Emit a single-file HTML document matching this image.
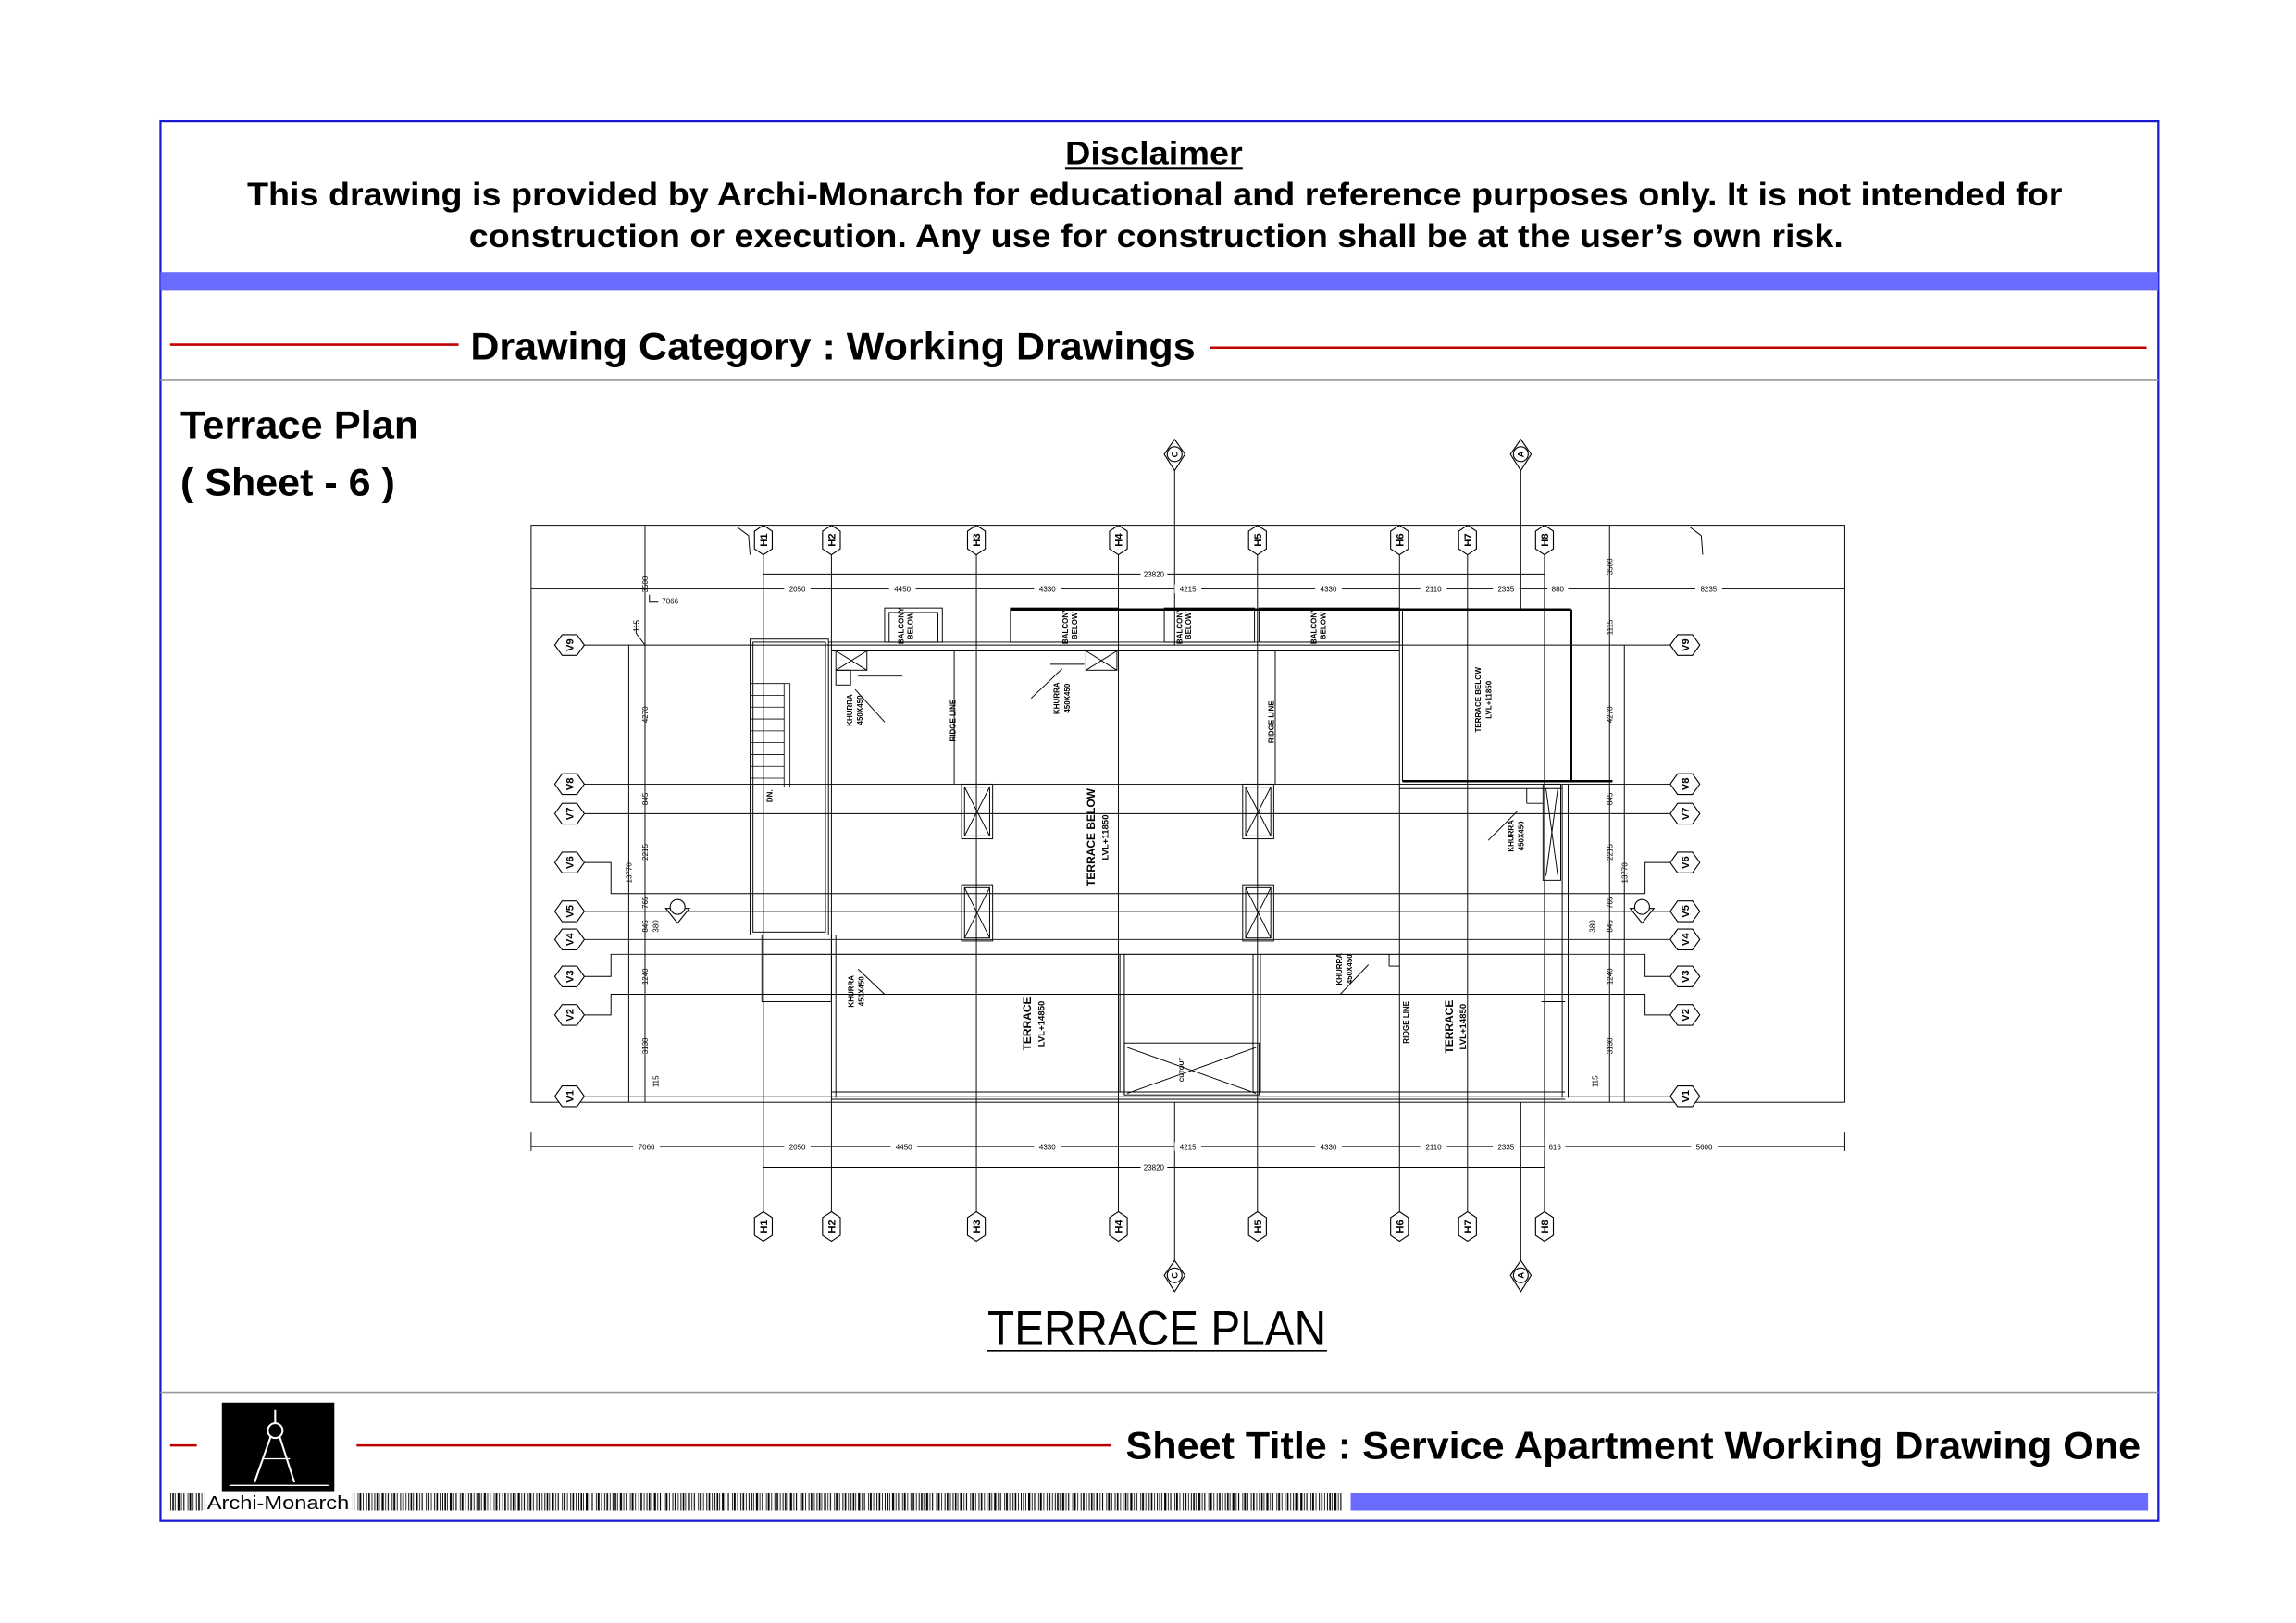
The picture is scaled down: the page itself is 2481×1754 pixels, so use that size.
<!DOCTYPE html>
<html><head><meta charset="utf-8"><style>
html,body{margin:0;padding:0;background:#fff;}
svg{display:block;}
text{font-family:"Liberation Sans",Arial,sans-serif;}
</style></head><body>
<svg width="2481" height="1754" viewBox="0 0 1552 1097" preserveAspectRatio="none" xmlns="http://www.w3.org/2000/svg">
<defs>
<pattern id="bc" x="0" y="0" width="23" height="12" patternUnits="userSpaceOnUse">
<rect x="0" y="0" width="0.6" height="12" fill="#000"/><rect x="1.5" y="0" width="1" height="12" fill="#000"/>
<rect x="3.2" y="0" width="0.5" height="12" fill="#000"/><rect x="5" y="0" width="1.4" height="12" fill="#000"/>
<rect x="7.4" y="0" width="0.5" height="12" fill="#000"/><rect x="9" y="0" width="0.7" height="12" fill="#000"/>
<rect x="11.8" y="0" width="0.5" height="12" fill="#000"/><rect x="13" y="0" width="1.2" height="12" fill="#000"/>
<rect x="15.3" y="0" width="0.5" height="12" fill="#000"/><rect x="17.5" y="0" width="0.6" height="12" fill="#000"/>
<rect x="19" y="0" width="1" height="12" fill="#000"/><rect x="21.2" y="0" width="0.5" height="12" fill="#000"/>
</pattern>
</defs>
<rect x="0" y="0" width="1552" height="1097" fill="#fff"/>
<!-- frame -->
<rect x="108.5" y="82" width="1350.5" height="946" fill="none" stroke="#1a1ad0" stroke-width="1.4"/>
<text x="780" y="111" font-size="22" font-weight="bold" text-anchor="middle" textLength="120" lengthAdjust="spacingAndGlyphs">Disclaimer</text>
<line x1="720" y1="114" x2="840" y2="114" stroke="#000" stroke-width="1.3"/>
<text x="167" y="139" font-size="22" font-weight="bold" textLength="1227" lengthAdjust="spacingAndGlyphs">This drawing is provided by Archi-Monarch for educational and reference purposes only. It is not intended for</text>
<text x="317" y="167" font-size="22" font-weight="bold" textLength="929" lengthAdjust="spacingAndGlyphs">construction or execution. Any use for construction shall be at the user’s own risk.</text>
<rect x="108.5" y="184" width="1350.5" height="12" fill="#6b6bff"/>
<line x1="115" y1="233" x2="310" y2="233" stroke="#c00000" stroke-width="1.6"/>
<text x="318" y="243" font-size="26" font-weight="bold" textLength="490" lengthAdjust="spacingAndGlyphs">Drawing Category : Working Drawings</text>
<line x1="818" y1="235" x2="1451" y2="235" stroke="#c00000" stroke-width="1.6"/>
<line x1="108.5" y1="257" x2="1459" y2="257" stroke="#999" stroke-width="1"/>
<text x="122" y="296" font-size="26" font-weight="bold" textLength="161" lengthAdjust="spacingAndGlyphs">Terrace Plan</text>
<text x="122" y="335" font-size="26" font-weight="bold" textLength="145" lengthAdjust="spacingAndGlyphs">( Sheet - 6 )</text>
<line x1="108.5" y1="941" x2="1459" y2="941" stroke="#999" stroke-width="1"/>
<!-- footer -->
<line x1="115" y1="977" x2="133" y2="977" stroke="#c00000" stroke-width="1.6"/>
<rect x="150" y="948" width="76" height="60" fill="#000"/>
<g stroke="#fff" stroke-width="1.3" fill="none">
<line x1="186" y1="953" x2="186" y2="962"/><circle cx="186" cy="967" r="5"/>
<line x1="183" y1="971" x2="172" y2="1002"/><line x1="189" y1="971" x2="199" y2="1002"/>
<line x1="178" y1="986" x2="196" y2="986" stroke-width="0.8"/><line x1="155" y1="1004" x2="222" y2="1004" stroke-width="0.8"/>
</g>
<line x1="241" y1="977" x2="751" y2="977" stroke="#c00000" stroke-width="1.6"/>
<text x="761" y="986" font-size="26" font-weight="bold" textLength="686" lengthAdjust="spacingAndGlyphs">Sheet Title : Service Apartment Working Drawing One</text>
<rect x="115" y="1009" width="793" height="12" fill="url(#bc)"/>
<rect x="138" y="1008" width="100" height="14" fill="#fff"/>
<text x="140" y="1020" font-size="13" textLength="96" lengthAdjust="spacingAndGlyphs">Archi-Monarch</text>
<rect x="913" y="1009" width="539" height="12" fill="#6b6bff"/>

<!-- ================= PLAN ================= -->
<g stroke="#000" stroke-width="0.6" fill="none">
<rect x="359" y="355" width="888" height="390"/>
<!-- grid vertical lines -->
<line x1="516" y1="374" x2="516" y2="820"/><line x1="562" y1="374" x2="562" y2="820"/>
<line x1="660" y1="374" x2="660" y2="820"/><line x1="756" y1="374" x2="756" y2="820"/>
<line x1="850" y1="374" x2="850" y2="820"/><line x1="946" y1="374" x2="946" y2="820"/>
<line x1="992" y1="374" x2="992" y2="820"/><line x1="1044" y1="374" x2="1044" y2="820"/>
<!-- grid horizontal lines -->
<line x1="395" y1="436" x2="1129" y2="436"/><line x1="395" y1="530" x2="1129" y2="530"/>
<line x1="395" y1="550" x2="1129" y2="550"/>
<polyline points="395,583 413,583 413,604 1112,604 1112,583 1129,583"/>
<line x1="395" y1="616" x2="1129" y2="616"/><line x1="395" y1="635" x2="1129" y2="635"/>
<polyline points="395,660 413,660 413,645 1112,645 1112,660 1129,660"/>
<polyline points="395,686 413,686 413,672 1112,672 1112,686 1129,686"/>
<line x1="395" y1="741" x2="1129" y2="741"/>
<!-- section lines -->
<line x1="794" y1="316" x2="794" y2="436"/><line x1="1028" y1="316" x2="1028" y2="412"/>
<line x1="794" y1="745" x2="794" y2="853"/><line x1="1028" y1="745" x2="1028" y2="853"/>
<!-- dimension lines -->
<line x1="359" y1="398" x2="1247" y2="398"/><line x1="516" y1="388" x2="1044" y2="388"/>
<line x1="359" y1="775" x2="1247" y2="775"/><line x1="516" y1="789" x2="1044" y2="789"/>
<line x1="359" y1="765" x2="359" y2="778"/><line x1="1247" y1="765" x2="1247" y2="778"/>
<line x1="436" y1="355" x2="436" y2="745"/><line x1="425" y1="436" x2="425" y2="745"/>
<line x1="1088" y1="355" x2="1088" y2="745"/><line x1="1098" y1="436" x2="1098" y2="745"/>
<!-- walls -->
<rect x="507" y="432" width="53" height="200"/><rect x="509" y="434" width="49" height="196"/>
<g stroke-width="0.5">
<line x1="507" y1="462" x2="530" y2="462"/><line x1="507" y1="470" x2="530" y2="470"/>
<line x1="507" y1="478" x2="530" y2="478"/><line x1="507" y1="486" x2="530" y2="486"/>
<line x1="507" y1="494" x2="530" y2="494"/><line x1="507" y1="502" x2="530" y2="502"/>
<line x1="507" y1="510" x2="530" y2="510"/><line x1="507" y1="518" x2="530" y2="518"/>
<line x1="507" y1="526" x2="530" y2="526"/>
<rect x="530" y="462" width="4" height="70"/>
</g>
<line x1="560" y1="434" x2="946" y2="434"/><line x1="562" y1="440" x2="946" y2="440"/>
<rect x="598" y="411" width="39" height="23"/><rect x="601" y="414" width="33" height="20"/>
<rect x="683" y="411" width="73" height="23"/><rect x="787" y="411" width="61" height="23"/>
<rect x="851" y="411" width="95" height="23"/>
<line x1="683" y1="412" x2="1062" y2="412" stroke-width="1.6"/>
<line x1="1062" y1="412" x2="1062" y2="528" stroke-width="1.6"/>
<line x1="948" y1="528" x2="1090" y2="528" stroke-width="1.6"/>
<line x1="948" y1="412" x2="948" y2="528"/>
<line x1="946" y1="533" x2="1056" y2="533"/>
<rect x="565" y="440" width="21" height="13"/><line x1="565" y1="440" x2="586" y2="453"/><line x1="586" y1="440" x2="565" y2="453"/>
<rect x="734" y="440" width="21" height="13"/><line x1="734" y1="440" x2="755" y2="453"/><line x1="755" y1="440" x2="734" y2="453"/>
<rect x="565" y="453" width="10" height="10"/>
<line x1="645" y1="440" x2="645" y2="530"/><line x1="862" y1="440" x2="862" y2="530"/>
<!-- columns -->
<rect x="650" y="530" width="21" height="37"/><rect x="652" y="532" width="17" height="33"/><line x1="652" y1="532" x2="669" y2="565"/><line x1="669" y1="532" x2="652" y2="565"/>
<rect x="650" y="598" width="21" height="38"/><rect x="652" y="600" width="17" height="34"/><line x1="652" y1="600" x2="669" y2="634"/><line x1="669" y1="600" x2="652" y2="634"/>
<rect x="840" y="530" width="21" height="37"/><rect x="842" y="532" width="17" height="33"/><line x1="842" y1="532" x2="859" y2="565"/><line x1="859" y1="532" x2="842" y2="565"/>
<rect x="840" y="598" width="21" height="38"/><rect x="842" y="600" width="17" height="34"/><line x1="842" y1="600" x2="859" y2="634"/><line x1="859" y1="600" x2="842" y2="634"/>
<rect x="1043" y="530" width="12" height="65"/><line x1="1045" y1="533" x2="1053" y2="592"/><line x1="1053" y1="533" x2="1045" y2="592"/>
<line x1="1056" y1="530" x2="1056" y2="742"/><line x1="1060" y1="530" x2="1060" y2="742"/>
<line x1="1032" y1="533" x2="1032" y2="543"/><line x1="1032" y1="543" x2="1043" y2="543"/>
<!-- lower -->
<line x1="507" y1="632" x2="1058" y2="632"/><line x1="515" y1="645" x2="1056" y2="645"/>
<rect x="515" y="632" width="47" height="45"/>
<line x1="562" y1="738" x2="1058" y2="738"/><line x1="562" y1="743" x2="1058" y2="743"/>
<line x1="565" y1="632" x2="565" y2="742"/>
<line x1="757" y1="645" x2="757" y2="738"/><line x1="760" y1="645" x2="760" y2="738"/>
<line x1="847" y1="645" x2="847" y2="738"/><line x1="852" y1="645" x2="852" y2="738"/>
<rect x="760" y="705" width="91" height="35"/><line x1="762" y1="708" x2="849" y2="739"/><line x1="849" y1="708" x2="762" y2="739"/>
<line x1="939" y1="645" x2="939" y2="653"/><line x1="939" y1="653" x2="946" y2="653"/>
<line x1="1042" y1="672" x2="1058" y2="672"/><line x1="1042" y1="677" x2="1058" y2="677"/>
<!-- leaders/arrows -->
<line x1="598" y1="488" x2="578" y2="466"/><line x1="580" y1="457" x2="610" y2="457"/>
<line x1="697" y1="472" x2="718" y2="452"/><line x1="710" y1="449" x2="733" y2="449"/>
<line x1="1006" y1="568" x2="1026" y2="548"/>
<line x1="598" y1="672" x2="580" y2="655"/><line x1="906" y1="672" x2="925" y2="652"/>
<line x1="498" y1="356" x2="506" y2="362"/><line x1="506" y1="362" x2="507" y2="375"/>
<line x1="1142" y1="356" x2="1150" y2="362"/><line x1="1150" y1="362" x2="1151" y2="375"/>
<polyline points="439,402 439,407 445,407"/>
<polyline points="436,436 430,428 430,420"/>
</g>
<!-- H bubbles -->
<g stroke="#000" stroke-width="0.7" fill="#fff">
<polygon points="516,355 522,359 522,371 516,375 510,371 510,359"/>
<polygon points="562,355 568,359 568,371 562,375 556,371 556,359"/>
<polygon points="660,355 666,359 666,371 660,375 654,371 654,359"/>
<polygon points="756,355 762,359 762,371 756,375 750,371 750,359"/>
<polygon points="850,355 856,359 856,371 850,375 844,371 844,359"/>
<polygon points="946,355 952,359 952,371 946,375 940,371 940,359"/>
<polygon points="992,355 998,359 998,371 992,375 986,371 986,359"/>
<polygon points="1044,355 1050,359 1050,371 1044,375 1038,371 1038,359"/>
<polygon points="516,819 522,823 522,835 516,839 510,835 510,823"/>
<polygon points="562,819 568,823 568,835 562,839 556,835 556,823"/>
<polygon points="660,819 666,823 666,835 660,839 654,835 654,823"/>
<polygon points="756,819 762,823 762,835 756,839 750,835 750,823"/>
<polygon points="850,819 856,823 856,835 850,839 844,835 844,823"/>
<polygon points="946,819 952,823 952,835 946,839 940,835 940,823"/>
<polygon points="992,819 998,823 998,835 992,839 986,835 986,823"/>
<polygon points="1044,819 1050,823 1050,835 1044,839 1038,835 1038,823"/>
</g>
<!-- V bubbles -->
<g stroke="#000" stroke-width="0.7" fill="#fff">
<polygon points="375,436 380,429 390,429 395,436 390,443 380,443" />
<polygon points="375,530 380,523 390,523 395,530 390,537 380,537" />
<polygon points="375,550 380,543 390,543 395,550 390,557 380,557" />
<polygon points="375,583 380,576 390,576 395,583 390,590 380,590" />
<polygon points="375,616 380,609 390,609 395,616 390,623 380,623" />
<polygon points="375,635 380,628 390,628 395,635 390,642 380,642" />
<polygon points="375,660 380,653 390,653 395,660 390,667 380,667" />
<polygon points="375,686 380,679 390,679 395,686 390,693 380,693" />
<polygon points="375,741 380,734 390,734 395,741 390,748 380,748" />
<polygon points="1129,436 1134,429 1144,429 1149,436 1144,443 1134,443" />
<polygon points="1129,530 1134,523 1144,523 1149,530 1144,537 1134,537" />
<polygon points="1129,550 1134,543 1144,543 1149,550 1144,557 1134,557" />
<polygon points="1129,583 1134,576 1144,576 1149,583 1144,590 1134,590" />
<polygon points="1129,616 1134,609 1144,609 1149,616 1144,623 1134,623" />
<polygon points="1129,635 1134,628 1144,628 1149,635 1144,642 1134,642" />
<polygon points="1129,660 1134,653 1144,653 1149,660 1144,667 1134,667" />
<polygon points="1129,686 1134,679 1144,679 1149,686 1144,693 1134,693" />
<polygon points="1129,741 1134,734 1144,734 1149,741 1144,748 1134,748" />
<!-- section markers -->
<polygon points="794,297 801,307 794,318 787,307"/><circle cx="794" cy="307" r="5"/>
<polygon points="1028,297 1035,307 1028,318 1021,307"/><circle cx="1028" cy="307" r="5"/>
<polygon points="794,852 801,862 794,873 787,862"/><circle cx="794" cy="862" r="5"/>
<polygon points="1028,852 1035,862 1028,873 1021,862"/><circle cx="1028" cy="862" r="5"/>
<polygon points="450,614 466,614 458,624"/><circle cx="458" cy="613" r="5"/>
<polygon points="1102,614 1118,614 1110,624"/><circle cx="1110" cy="613" r="5"/>
</g>
<!-- bubble labels -->
<g font-size="7" font-weight="bold" text-anchor="middle">
<text transform="translate(518.5,365) rotate(-90)">H1</text><text transform="translate(564.5,365) rotate(-90)">H2</text>
<text transform="translate(662.5,365) rotate(-90)">H3</text><text transform="translate(758.5,365) rotate(-90)">H4</text>
<text transform="translate(852.5,365) rotate(-90)">H5</text><text transform="translate(948.5,365) rotate(-90)">H6</text>
<text transform="translate(994.5,365) rotate(-90)">H7</text><text transform="translate(1046.5,365) rotate(-90)">H8</text>
<text transform="translate(518.5,829) rotate(-90)">H1</text><text transform="translate(564.5,829) rotate(-90)">H2</text>
<text transform="translate(662.5,829) rotate(-90)">H3</text><text transform="translate(758.5,829) rotate(-90)">H4</text>
<text transform="translate(852.5,829) rotate(-90)">H5</text><text transform="translate(948.5,829) rotate(-90)">H6</text>
<text transform="translate(994.5,829) rotate(-90)">H7</text><text transform="translate(1046.5,829) rotate(-90)">H8</text>
<text transform="translate(387.5,436) rotate(-90)">V9</text><text transform="translate(387.5,530) rotate(-90)">V8</text>
<text transform="translate(387.5,550) rotate(-90)">V7</text><text transform="translate(387.5,583) rotate(-90)">V6</text>
<text transform="translate(387.5,616) rotate(-90)">V5</text><text transform="translate(387.5,635) rotate(-90)">V4</text>
<text transform="translate(387.5,660) rotate(-90)">V3</text><text transform="translate(387.5,686) rotate(-90)">V2</text>
<text transform="translate(387.5,741) rotate(-90)">V1</text>
<text transform="translate(1141.5,436) rotate(-90)">V9</text><text transform="translate(1141.5,530) rotate(-90)">V8</text>
<text transform="translate(1141.5,550) rotate(-90)">V7</text><text transform="translate(1141.5,583) rotate(-90)">V6</text>
<text transform="translate(1141.5,616) rotate(-90)">V5</text><text transform="translate(1141.5,635) rotate(-90)">V4</text>
<text transform="translate(1141.5,660) rotate(-90)">V3</text><text transform="translate(1141.5,686) rotate(-90)">V2</text>
<text transform="translate(1141.5,741) rotate(-90)">V1</text>
<text transform="translate(796,307) rotate(-90)" font-size="6">C</text><text transform="translate(1030,307) rotate(-90)" font-size="6">A</text>
<text transform="translate(796,862) rotate(-90)" font-size="6">C</text><text transform="translate(1030,862) rotate(-90)" font-size="6">A</text>
</g>
<!-- dims text -->
<g font-size="5" text-anchor="middle">
<rect x="530" y="395" width="18" height="6" fill="#fff"/><text x="539" y="400">2050</text>
<rect x="601" y="395" width="18" height="6" fill="#fff"/><text x="610" y="400">4450</text>
<rect x="699" y="395" width="18" height="6" fill="#fff"/><text x="708" y="400">4330</text>
<rect x="794" y="395" width="18" height="6" fill="#fff"/><text x="803" y="400">4215</text>
<rect x="889" y="395" width="18" height="6" fill="#fff"/><text x="898" y="400">4330</text>
<rect x="960" y="395" width="18" height="6" fill="#fff"/><text x="969" y="400">2110</text>
<rect x="1009" y="395" width="18" height="6" fill="#fff"/><text x="1018" y="400">2335</text>
<rect x="1046" y="395" width="14" height="6" fill="#fff"/><text x="1053" y="400">880</text>
<rect x="1146" y="395" width="18" height="6" fill="#fff"/><text x="1155" y="400">8235</text>
<rect x="771" y="385" width="18" height="6" fill="#fff"/><text x="780" y="390">23820</text>
<text x="453" y="408">7066</text>
<rect x="428" y="772" width="18" height="6" fill="#fff"/><text x="437" y="777">7066</text>
<rect x="530" y="772" width="18" height="6" fill="#fff"/><text x="539" y="777">2050</text>
<rect x="602" y="772" width="18" height="6" fill="#fff"/><text x="611" y="777">4450</text>
<rect x="699" y="772" width="18" height="6" fill="#fff"/><text x="708" y="777">4330</text>
<rect x="794" y="772" width="18" height="6" fill="#fff"/><text x="803" y="777">4215</text>
<rect x="889" y="772" width="18" height="6" fill="#fff"/><text x="898" y="777">4330</text>
<rect x="960" y="772" width="18" height="6" fill="#fff"/><text x="969" y="777">2110</text>
<rect x="1009" y="772" width="18" height="6" fill="#fff"/><text x="1018" y="777">2335</text>
<rect x="1044" y="772" width="14" height="6" fill="#fff"/><text x="1051" y="777">616</text>
<rect x="1143" y="772" width="18" height="6" fill="#fff"/><text x="1152" y="777">5600</text>
<rect x="771" y="786" width="18" height="6" fill="#fff"/><text x="780" y="791">23820</text>
<text transform="translate(438,395) rotate(-90)">3500</text><text transform="translate(432,423) rotate(-90)">115</text>
<text transform="translate(438,483) rotate(-90)">4270</text><text transform="translate(438,540) rotate(-90)">845</text>
<text transform="translate(438,576) rotate(-90)">2215</text><text transform="translate(427,590) rotate(-90)">13770</text>
<text transform="translate(438,610) rotate(-90)">765</text><text transform="translate(438,626) rotate(-90)">845</text>
<text transform="translate(445,626) rotate(-90)">380</text><text transform="translate(438,660) rotate(-90)">1240</text>
<text transform="translate(438,707) rotate(-90)">3130</text><text transform="translate(445,731) rotate(-90)">115</text>
<text transform="translate(1090,383) rotate(-90)">3500</text><text transform="translate(1090,424) rotate(-90)">1115</text>
<text transform="translate(1090,483) rotate(-90)">4270</text><text transform="translate(1090,540) rotate(-90)">845</text>
<text transform="translate(1090,576) rotate(-90)">2215</text><text transform="translate(1100,590) rotate(-90)">13770</text>
<text transform="translate(1090,610) rotate(-90)">765</text><text transform="translate(1090,626) rotate(-90)">845</text>
<text transform="translate(1078,626) rotate(-90)">380</text><text transform="translate(1090,660) rotate(-90)">1240</text>
<text transform="translate(1090,707) rotate(-90)">3130</text><text transform="translate(1080,731) rotate(-90)">115</text>
</g>
<!-- plan labels -->
<g font-size="5" font-weight="bold" text-anchor="middle">
<text transform="translate(611,423) rotate(-90)">BALCONY</text><text transform="translate(617,423) rotate(-90)">BELOW</text>
<text transform="translate(722,423) rotate(-90)">BALCONY</text><text transform="translate(728,423) rotate(-90)">BELOW</text>
<text transform="translate(799,423) rotate(-90)">BALCONY</text><text transform="translate(805,423) rotate(-90)">BELOW</text>
<text transform="translate(890,423) rotate(-90)">BALCONY</text><text transform="translate(896,423) rotate(-90)">BELOW</text>
<text transform="translate(576,480) rotate(-90)">KHURRA</text><text transform="translate(583,480) rotate(-90)">450X450</text>
<text transform="translate(716,472) rotate(-90)">KHURRA</text><text transform="translate(723,472) rotate(-90)">450X450</text>
<text transform="translate(1023,565) rotate(-90)">KHURRA</text><text transform="translate(1030,565) rotate(-90)">450X450</text>
<text transform="translate(577,670) rotate(-90)">KHURRA</text><text transform="translate(584,670) rotate(-90)">450X450</text>
<text transform="translate(907,655) rotate(-90)">KHURRA</text><text transform="translate(914,655) rotate(-90)">450X450</text>
<text transform="translate(646,487) rotate(-90)">RIDGE LINE</text>
<text transform="translate(861,488) rotate(-90)">RIDGE LINE</text>
<text transform="translate(952,691) rotate(-90)">RIDGE LINE</text>
<text transform="translate(1001,473) rotate(-90)">TERRACE BELOW</text><text transform="translate(1008,473) rotate(-90)">LVL+11850</text>
<text transform="translate(522,538) rotate(-90)">DN.</text>
<text transform="translate(800,723) rotate(-90)" font-size="4">CUTOUT</text>
</g>
<g font-size="7.5" font-weight="bold" text-anchor="middle">
<text transform="translate(740,566) rotate(-90)">TERRACE BELOW</text>
<text transform="translate(749,566) rotate(-90)" font-size="6">LVL+11850</text>
<text transform="translate(697,692) rotate(-90)">TERRACE</text>
<text transform="translate(706,692) rotate(-90)" font-size="6">LVL+14850</text>
<text transform="translate(982,694) rotate(-90)">TERRACE</text>
<text transform="translate(991,694) rotate(-90)" font-size="6">LVL+14850</text>
</g>
<!-- title -->
<text x="782" y="909" font-size="33" text-anchor="middle" textLength="229" lengthAdjust="spacingAndGlyphs">TERRACE PLAN</text>
<line x1="667" y1="913" x2="897" y2="913" stroke="#000" stroke-width="1"/>
</svg>
</body></html>
